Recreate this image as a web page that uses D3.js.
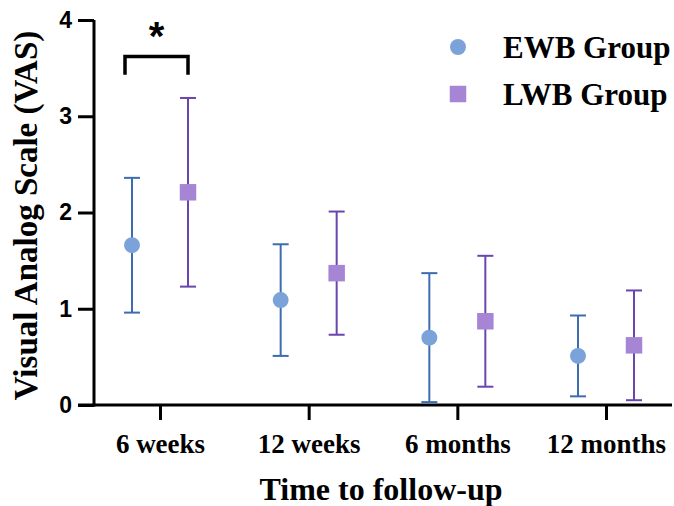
<!DOCTYPE html>
<html>
<head>
<meta charset="utf-8">
<script src="https://cdn.jsdelivr.net/npm/d3@7"></script>
<style>
    body { margin: 0; background: #fff; }
    .serif { font-family: "Liberation Serif", "Times New Roman", serif; font-weight: bold; }
    .sans { font-family: "Liberation Sans", Arial, sans-serif; font-weight: bold; }
</style>
</head>
<body>
<div id="chart"></div>
<script>
// time points on the x axis
let categories = ['6 weeks', '12 weeks', '6 months', '12 months'];
let groups = ['EWB Group', 'LWB Group'];

// mean and SD
let ewbMean = [1.66, 1.09, 0.70, 0.51];
let ewbSd = [0.70, 0.58, 0.67, 0.42];
let lwbMean = [2.21, 1.37, 0.87, 0.62];
let lwbSd = [0.98, 0.64, 0.68, 0.57];

let yTicks = [0, 1, 2, 3, 4];

let margin = {
        top: 20,
        right: 2,
        bottom: 101,
        left: 94
    },
    width = 674 - margin.left - margin.right,
    height = 506 - margin.top - margin.bottom;

let colors = {
    ewbFill: '#7ba3d9',
    ewbLine: '#3d6cb0',
    lwbFill: '#a685d5',
    lwbLine: '#6a45ad'
};

let svg = d3.select('#chart').append('svg')
    .attr('width', 674)
    .attr('height', 506),
    g = svg.append('g')
    .attr('transform', 'translate(' + margin.left + ',' + margin.top + ')');

let x = d3.scalePoint()
    .domain(categories)
    .range([66, 512]);

let y = d3.scaleLinear()
    .domain([0, 4])
    .range([height + 0, 0]);

let offset = d3.scaleOrdinal()
    .domain(groups)
    .range([-28, 28]);

// build rows from the arrays
let rows = [];
categories.forEach(function(c, i) {
    rows.push({ cat: c, group: groups[0], mean: ewbMean[i], sd: ewbSd[i] });
    rows.push({ cat: c, group: groups[1], mean: lwbMean[i], sd: lwbSd[i] });
});

// y axis
let yAxis = g.append('g')
    .call(d3.axisLeft(y).tickValues(yTicks).tickSize(16).tickPadding(6).tickFormat(d3.format('d')));
yAxis.select('.domain').attr('stroke-width', 3).attr('d', 'M0,' + (height + 1.5) + 'V' + y(4));
yAxis.selectAll('.tick line').attr('stroke-width', 3);
yAxis.selectAll('.tick text')
    .attr('class', 'sans')
    .style('font-size', '23px')
    .attr('fill', '#000');

// x axis
let xAxis = g.append('g')
    .attr('transform', 'translate(0,' + height + ')')
    .call(d3.axisBottom(x).tickSize(15).tickPadding(14));
xAxis.select('.domain').attr('stroke-width', 3).attr('d', 'M-16,0H' + width);
xAxis.selectAll('.tick line').attr('stroke-width', 3);
xAxis.selectAll('.tick text')
    .attr('class', 'serif')
    .style('font-size', '27px')
    .attr('fill', '#000');

// error bars
let bars = g.selectAll('.err')
    .data(rows)
    .enter().append('g')
    .attr('class', 'err')
    .attr('stroke', function(d) {
        return d.group === groups[0] ? colors.ewbLine : colors.lwbLine;
    })
    .attr('stroke-width', 2)
    .attr('transform', function(d) {
        return 'translate(' + (x(d.cat) + offset(d.group)) + ',0)';
    });

bars.append('line')
    .attr('y1', function(d) { return y(Math.max(0, d.mean - d.sd)); })
    .attr('y2', function(d) { return y(d.mean + d.sd); });
bars.append('line')
    .attr('x1', -8).attr('x2', 8)
    .attr('y1', function(d) { return y(d.mean + d.sd); })
    .attr('y2', function(d) { return y(d.mean + d.sd); });
bars.append('line')
    .attr('x1', -8).attr('x2', 8)
    .attr('y1', function(d) { return y(Math.max(0, d.mean - d.sd)); })
    .attr('y2', function(d) { return y(Math.max(0, d.mean - d.sd)); });

// markers
let circleSym = d3.symbol().type(d3.symbolCircle).size(200);
let squareSym = d3.symbol().type(d3.symbolSquare).size(272);

g.selectAll('.pt')
    .data(rows)
    .enter().append('path')
    .attr('class', 'pt')
    .attr('d', function(d) {
        return d.group === groups[0] ? circleSym() : squareSym();
    })
    .attr('fill', function(d) {
        return d.group === groups[0] ? colors.ewbFill : colors.lwbFill;
    })
    .attr('transform', function(d) {
        return 'translate(' + (x(d.cat) + offset(d.group)) + ',' + y(d.mean) + ')';
    });

// significance bracket at 6 weeks
let bx1 = x(categories[0]) + offset(groups[0]) - 7,
    bx2 = x(categories[0]) + offset(groups[1]);
g.append('path')
    .attr('d', 'M' + bx1 + ',' + y(3.43) + 'V' + y(3.62) + 'H' + bx2 + 'V' + y(3.43))
    .attr('fill', 'none')
    .attr('stroke', '#000')
    .attr('stroke-width', 3.5);
g.append('text')
    .attr('class', 'sans')
    .attr('x', (bx1 + bx2) / 2)
    .attr('y', y(3.62) - 7)
    .attr('text-anchor', 'middle')
    .style('font-size', '40px')
    .text('*');

// legend
let legend = g.selectAll('.legend')
    .data(groups)
    .enter().append('g')
    .attr('class', 'legend')
    .attr('transform', function(d, i) {
        return 'translate(364,' + (27 + i * 47) + ')';
    });
legend.append('path')
    .attr('d', function(d, i) {
        return i === 0 ? circleSym() : squareSym();
    })
    .attr('fill', function(d, i) {
        return i === 0 ? colors.ewbFill : colors.lwbFill;
    });
legend.append('text')
    .attr('class', 'serif')
    .attr('x', 45)
    .attr('dy', '.35em')
    .style('font-size', '31px')
    .text(function(d) { return d; });

// axis titles
svg.append('text')
    .attr('class', 'serif')
    .attr('transform', 'translate(37,' + (margin.top + height / 2 + 3) + ') rotate(-90)')
    .attr('text-anchor', 'middle')
    .style('font-size', '33px')
    .text('Visual Analog Scale (VAS)');

svg.append('text')
    .attr('class', 'serif')
    .attr('x', margin.left + (x(categories[1]) + x(categories[2])) / 2 - 2)
    .attr('y', 500)
    .attr('text-anchor', 'middle')
    .style('font-size', '32px')
    .text('Time to follow-up');
</script>
</body>
</html>
